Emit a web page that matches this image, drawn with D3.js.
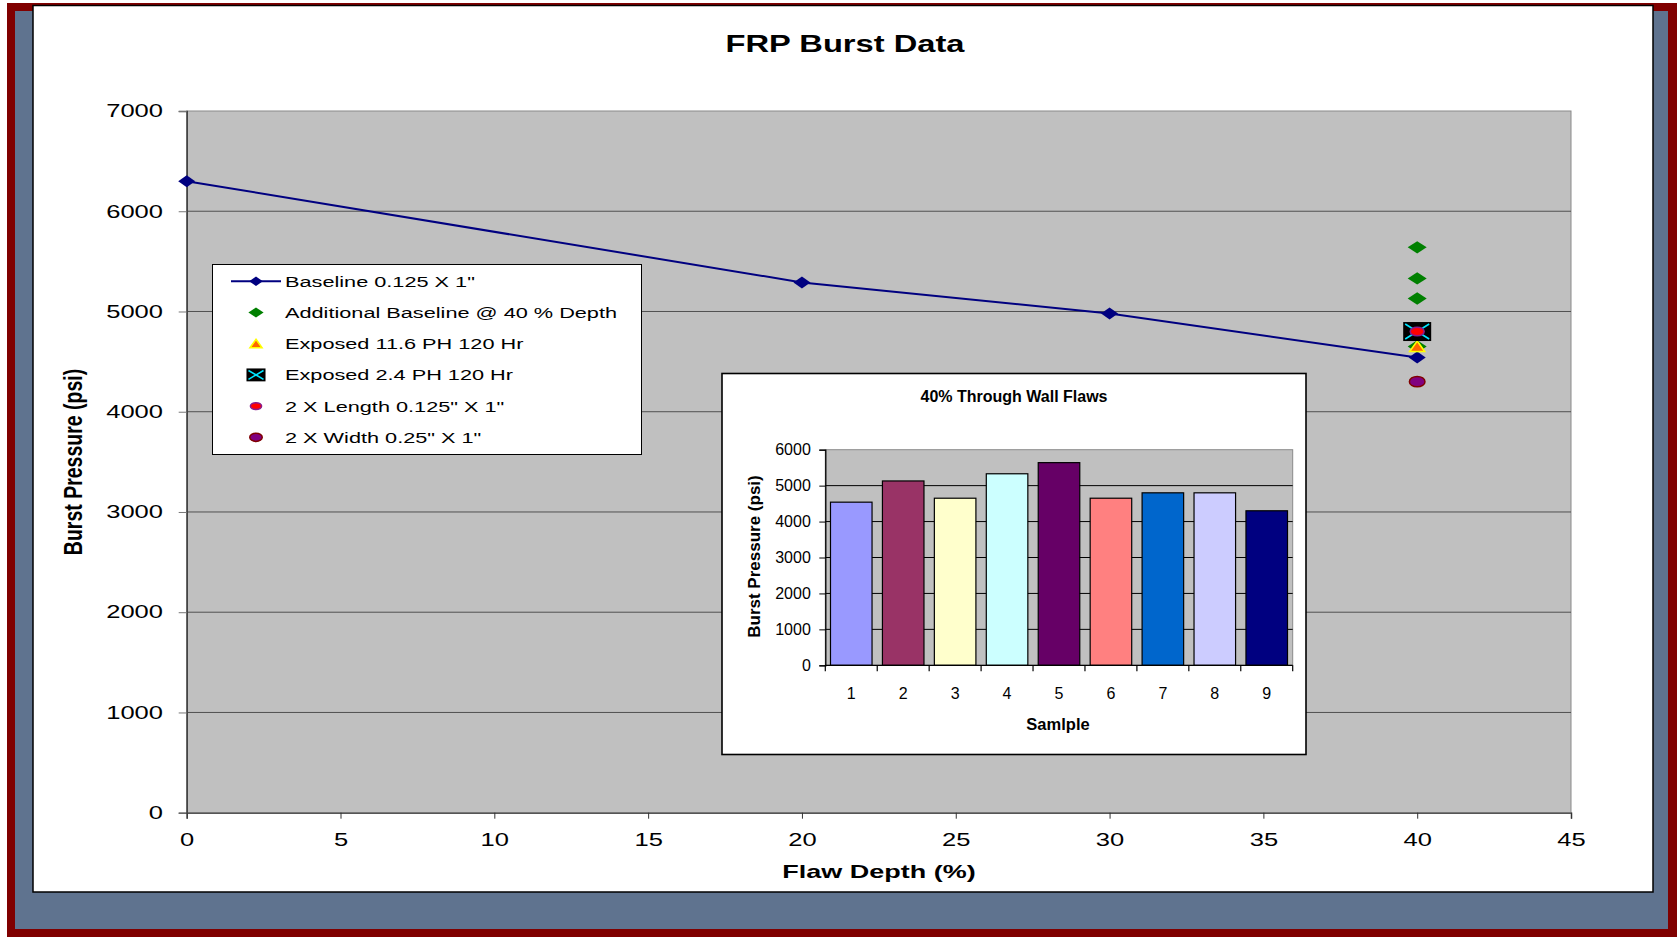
<!DOCTYPE html>
<html>
<head>
<meta charset="utf-8">
<script src="https://cdn.jsdelivr.net/npm/d3@7/dist/d3.min.js"></script>
<style>
  body { margin: 0; background: #fff; }
  svg { display: block; font-family: "Liberation Sans", Arial, sans-serif; }
</style>
</head>
<body>
<div id="chart"></div>
<script>
// main chart data
var baselineDepth = [0, 20, 30, 40];
var baselinePsi = [6300, 5290, 4980, 4540];
var addBaselineDepth = [40, 40, 40, 40];
var addBaselinePsi = [5640, 5330, 5130, 4650];
var exposed116Depth = [40];
var exposed116Psi = [4650];
var exposed24Depth = [40];
var exposed24Psi = [4800];
var lengthDepth = [40];
var lengthPsi = [4800];
var widthDepth = [40];
var widthPsi = [4300];
var xTicks = [0, 5, 10, 15, 20, 25, 30, 35, 40, 45];
var yTicks = [0, 1000, 2000, 3000, 4000, 5000, 6000, 7000];
var legendLabels = ["Baseline 0.125 X 1\"", "Additional Baseline @ 40 % Depth",
    "Exposed 11.6 PH 120 Hr", "Exposed 2.4 PH 120 Hr",
    "2 X Length 0.125\" X 1\"", "2 X Width 0.25\" X 1\""];
var legendTypes = ["line", "green", "triangle", "xbox", "redcircle", "purplecircle"];

// inset bar chart data
var samples = ["1", "2", "3", "4", "5", "6", "7", "8", "9"];
var samplePsi = [4540, 5130, 4650, 5330, 5640, 4650, 4800, 4800, 4300];
var sampleColors = ["#9999ff", "#993366", "#ffffcc", "#ccffff", "#660066",
    "#ff8080", "#0066cc", "#ccccff", "#000080"];
var insetTicks = [0, 1000, 2000, 3000, 4000, 5000, 6000];

// the picture is stretched sideways, so the text is too
var SX = 1.42;

var W = 1677, H = 937;
var svg = d3.select("#chart").append("svg")
    .attr("width", W)
    .attr("height", H);

// frame: red, slate blue, white panel
svg.append("rect").attr("x", 7).attr("y", 3).attr("width", W - 7).attr("height", H - 3)
    .attr("fill", "#800000");
svg.append("rect").attr("x", 15).attr("y", 11).attr("width", 1653).attr("height", 918)
    .attr("fill", "#5f738f");
svg.append("rect").attr("x", 33).attr("y", 5.5).attr("width", 1620).attr("height", 886.5)
    .attr("fill", "#fff").attr("stroke", "#000").attr("stroke-width", 1.5);

var x = d3.scaleLinear().domain([0, 45]).range([186.7, 1571]);
var y = d3.scaleLinear().domain([0, 7000]).range([812.7, 111]);

// plot area
svg.append("rect")
    .attr("x", x(0)).attr("y", y(7000))
    .attr("width", x(45) - x(0)).attr("height", y(0) - y(7000))
    .attr("fill", "#c0c0c0")
    .attr("stroke", "#8a8a8a").attr("stroke-width", 1);

// gridlines
svg.append("g").selectAll("line")
    .data(yTicks.filter(function(d) { return d > 0 && d < 7000; }))
    .enter().append("line")
    .attr("x1", x(0)).attr("x2", x(45))
    .attr("y1", function(d) { return y(d); })
    .attr("y2", function(d) { return y(d); })
    .attr("stroke", "#505050").attr("stroke-width", 1);

// Y axis
var yAxis = svg.append("g")
    .attr("transform", "translate(" + x(0) + ",0)")
    .call(d3.axisLeft(y).tickValues(yTicks).tickSize(8).tickFormat(d3.format("d")));
yAxis.select(".domain").attr("stroke", "#444").attr("stroke-width", 1.6);
yAxis.selectAll(".tick line").attr("stroke", "#777");
yAxis.selectAll(".tick text")
    .attr("x", -23.7 / SX)
    .attr("transform", "scale(" + SX + ",1)")
    .attr("font-size", 18).attr("fill", "#000")
    .attr("font-family", "Liberation Sans, Arial, sans-serif");

// X axis
var xAxis = svg.append("g")
    .attr("transform", "translate(0," + y(0) + ")")
    .call(d3.axisBottom(x).tickValues(xTicks).tickSize(6).tickPadding(14.6));
xAxis.select(".domain").attr("stroke", "#555").attr("stroke-width", 1.6);
xAxis.selectAll(".tick line").attr("stroke", "#333");
xAxis.selectAll(".tick text")
    .attr("transform", "scale(" + SX + ",1)")
    .attr("font-size", 18).attr("fill", "#000")
    .attr("font-family", "Liberation Sans, Arial, sans-serif");

// titles
svg.append("text")
    .attr("transform", "translate(845,52) scale(" + SX + ",1)")
    .attr("text-anchor", "middle")
    .attr("font-size", 23).attr("font-weight", "bold")
    .text("FRP Burst Data");

svg.append("text")
    .attr("transform", "translate(879,878) scale(" + SX + ",1)")
    .attr("text-anchor", "middle")
    .attr("font-size", 19).attr("font-weight", "bold")
    .text("Flaw Depth (%)");

svg.append("text")
    .attr("transform", "translate(73,462) scale(1.3,1) rotate(-90)")
    .attr("text-anchor", "middle")
    .attr("dy", "0.36em")
    .attr("font-size", 19.5).attr("font-weight", "bold")
    .text("Burst Pressure (psi)");

// marker shapes, k scales the size
function diamond(w, h) {
    return "M0," + (-h) + "L" + w + ",0L0," + h + "L" + (-w) + ",0Z";
}

function drawMarker(g, type, cx, cy, k) {
    var m = g.append("g").attr("transform", "translate(" + cx + "," + cy + ")");
    if (type == "line" || type == "navy") {
        m.append("path").attr("d", diamond(8.5 * k, 6 * k)).attr("fill", "#000080");
    } else if (type == "green") {
        m.append("path").attr("d", diamond(9.5 * k, 6.2 * k)).attr("fill", "#008000");
    } else if (type == "triangle") {
        m.append("path")
            .attr("d", "M0," + (-5.5 * k) + "L" + (7.5 * k) + "," + (5 * k) + "L" + (-7.5 * k) + "," + (5 * k) + "Z")
            .attr("fill", "#ff6600").attr("stroke", "#ffff00").attr("stroke-width", 1.6);
    } else if (type == "xbox") {
        var bw = 14 * k, bh = 9.5 * k;
        m.append("rect").attr("x", -bw).attr("y", -bh).attr("width", 2 * bw).attr("height", 2 * bh)
            .attr("fill", "#000");
        m.append("path")
            .attr("d", "M" + (-bw + 2) + "," + (-bh + 2) + "L" + (bw - 2) + "," + (bh - 2) +
                "M" + (bw - 2) + "," + (-bh + 2) + "L" + (-bw + 2) + "," + (bh - 2))
            .attr("stroke", "#00e5ff").attr("stroke-width", 1.6);
    } else if (type == "redcircle") {
        m.append("ellipse").attr("rx", 7 * k).attr("ry", 4.3 * k)
            .attr("fill", "#ff0000").attr("stroke", "#8a1a8a").attr("stroke-width", 1.5);
    } else if (type == "purplecircle") {
        m.append("ellipse").attr("rx", 7.8 * k).attr("ry", 5.2 * k)
            .attr("fill", "#800080").attr("stroke", "#800000").attr("stroke-width", 1.5);
    }
    return m;
}

// baseline series
var baseline = baselineDepth.map(function(d, i) { return [d, baselinePsi[i]]; });
svg.append("path")
    .datum(baseline)
    .attr("d", d3.line().x(function(d) { return x(d[0]); }).y(function(d) { return y(d[1]); }))
    .attr("fill", "none").attr("stroke", "#000080").attr("stroke-width", 2);

var marks = svg.append("g");
baseline.forEach(function(d) { drawMarker(marks, "navy", x(d[0]), y(d[1]), 1); });

function series(depths, values, type) {
    depths.forEach(function(d, i) { drawMarker(marks, type, x(d), y(values[i]), 1); });
}
series(addBaselineDepth, addBaselinePsi, "green");
series(exposed116Depth, exposed116Psi, "triangle");
series(exposed24Depth, exposed24Psi, "xbox");
series(lengthDepth, lengthPsi, "redcircle");
series(widthDepth, widthPsi, "purplecircle");

// legend
var legend = svg.append("g");
legend.append("rect")
    .attr("x", 212.5).attr("y", 264.5).attr("width", 429).attr("height", 190)
    .attr("fill", "#fff").attr("stroke", "#000").attr("stroke-width", 1);

legendLabels.forEach(function(label, i) {
    var cy = 281.3 + i * 31.2;
    if (legendTypes[i] == "line") {
        legend.append("line").attr("x1", 231).attr("x2", 281).attr("y1", cy).attr("y2", cy)
            .attr("stroke", "#000080").attr("stroke-width", 2);
    }
    drawMarker(legend, legendTypes[i], 256, cy, legendTypes[i] == "xbox" ? 0.68 : 0.8);
    legend.append("text")
        .attr("transform", "translate(285," + cy + ") scale(" + SX + ",1)")
        .attr("dy", "0.36em")
        .attr("font-size", 15.3)
        .text(label);
});

// inset bar chart
var inset = svg.append("g");
inset.append("rect")
    .attr("x", 722).attr("y", 373.5).attr("width", 584).attr("height", 381)
    .attr("fill", "#fff").attr("stroke", "#000").attr("stroke-width", 1.6);

var xb = d3.scaleBand().domain(samples).range([825.3, 1292.7]).paddingInner(0.2).paddingOuter(0.1);
var yi = d3.scaleLinear().domain([0, 6000]).range([665.3, 449.7]);

inset.append("rect")
    .attr("x", 825.3).attr("y", yi(6000))
    .attr("width", 1292.7 - 825.3).attr("height", yi(0) - yi(6000))
    .attr("fill", "#c0c0c0").attr("stroke", "#8a8a8a").attr("stroke-width", 1);

inset.append("g").selectAll("line")
    .data(insetTicks.filter(function(d) { return d > 0 && d < 6000; }))
    .enter().append("line")
    .attr("x1", 825.3).attr("x2", 1292.7)
    .attr("y1", function(d) { return yi(d); })
    .attr("y2", function(d) { return yi(d); })
    .attr("stroke", "#000").attr("stroke-width", 1);

inset.append("g").selectAll("rect")
    .data(samples)
    .enter().append("rect")
    .attr("x", function(d) { return xb(d); })
    .attr("y", function(d, i) { return yi(samplePsi[i]); })
    .attr("width", xb.bandwidth())
    .attr("height", function(d, i) { return yi(0) - yi(samplePsi[i]); })
    .attr("fill", function(d, i) { return sampleColors[i]; })
    .attr("stroke", "#000").attr("stroke-width", 1.2);

var yiAxis = inset.append("g")
    .attr("transform", "translate(825.3,0)")
    .call(d3.axisLeft(yi).tickValues(insetTicks).tickSize(6).tickPadding(8.5).tickFormat(d3.format("d")));
yiAxis.select(".domain").attr("stroke", "#000").attr("stroke-width", 1.3);
yiAxis.selectAll(".tick line").attr("stroke", "#000");
yiAxis.selectAll(".tick text")
    .attr("font-size", 16).attr("fill", "#000")
    .attr("font-family", "Liberation Sans, Arial, sans-serif");

// category axis with ticks between the bars
var step = xb.step();
var edges = d3.range(samples.length + 1).map(function(i) { return 825.3 + i * step; });
inset.append("line")
    .attr("x1", 825.3).attr("x2", 1292.7).attr("y1", yi(0)).attr("y2", yi(0))
    .attr("stroke", "#000").attr("stroke-width", 1.3);
inset.append("g").selectAll("line")
    .data(edges)
    .enter().append("line")
    .attr("x1", function(d) { return d; }).attr("x2", function(d) { return d; })
    .attr("y1", yi(0)).attr("y2", yi(0) + 6)
    .attr("stroke", "#000").attr("stroke-width", 1.2);
inset.append("g").selectAll("text")
    .data(samples)
    .enter().append("text")
    .attr("x", function(d) { return xb(d) + xb.bandwidth() / 2; })
    .attr("y", 699)
    .attr("text-anchor", "middle")
    .attr("font-size", 16)
    .text(function(d) { return d; });

inset.append("text")
    .attr("x", 1014).attr("y", 402)
    .attr("text-anchor", "middle")
    .attr("font-size", 16).attr("font-weight", "bold")
    .text("40% Through Wall Flaws");
inset.append("text")
    .attr("x", 1058).attr("y", 730)
    .attr("text-anchor", "middle")
    .attr("font-size", 16.5).attr("font-weight", "bold")
    .text("Samlple");
inset.append("text")
    .attr("transform", "translate(754,556.5) rotate(-90)")
    .attr("text-anchor", "middle")
    .attr("dy", "0.36em")
    .attr("font-size", 17).attr("font-weight", "bold")
    .text("Burst Pressure (psi)");
</script>
</body>
</html>
